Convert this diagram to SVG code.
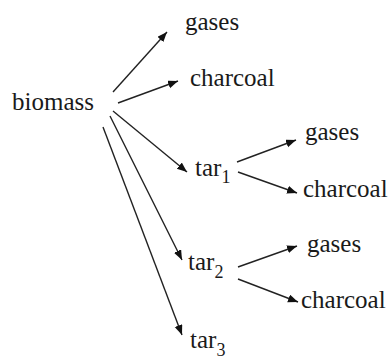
<svg xmlns="http://www.w3.org/2000/svg" width="390" height="359" viewBox="0 0 390 359">
<defs>
<marker id="ah" markerUnits="userSpaceOnUse" markerWidth="11" markerHeight="9" refX="10" refY="4" orient="auto">
<path d="M0,0 L10,4 L0,8 z" fill="#111"/>
</marker>
<style>
text{font-family:'Liberation Serif',serif;font-size:25px;fill:#1a1a1a}
.sub{font-size:18px}
.c line{stroke:#222;stroke-width:1.4;marker-end:url(#ah)}
</style>
</defs>
<rect width="390" height="359" fill="#fff"/>
<g id="connectors" class="c">
<line x1="113" y1="92" x2="167" y2="32"/>
<line x1="118" y1="103" x2="178" y2="81"/>
<line x1="113" y1="111" x2="187" y2="172"/>
<line x1="110" y1="116" x2="182" y2="260"/>
<line x1="103" y1="127" x2="182" y2="335"/>
<line x1="237" y1="162" x2="296" y2="140"/>
<line x1="238" y1="172" x2="297" y2="193"/>
<line x1="238" y1="267" x2="297" y2="246"/>
<line x1="238" y1="279" x2="298" y2="302"/>
</g>
<g id="biomass"><text x="12" y="110">biomass</text></g>
<g id="gases0"><text x="185" y="30">gases</text></g>
<g id="charcoal0"><text x="190" y="86">charcoal</text></g>
<g id="tar1"><text x="195" y="176">tar<tspan class="sub" dy="7">1</tspan></text></g>
<g id="gases1"><text x="305" y="140">gases</text></g>
<g id="charcoal1"><text x="303" y="197">charcoal</text></g>
<g id="tar2"><text x="188" y="270">tar<tspan class="sub" dy="8">2</tspan></text></g>
<g id="gases2"><text x="307" y="252">gases</text></g>
<g id="charcoal2"><text x="301" y="308">charcoal</text></g>
<g id="tar3"><text x="190" y="348">tar<tspan class="sub" dy="8">3</tspan></text></g>
</svg>
